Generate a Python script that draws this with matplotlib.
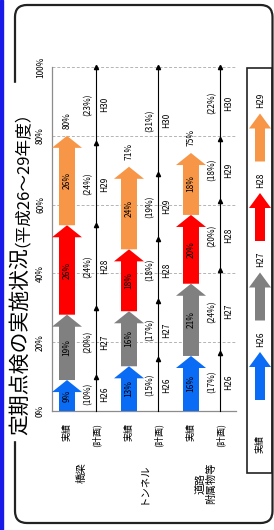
import matplotlib
matplotlib.use('Agg')
import matplotlib.pyplot as plt
import numpy as np
from matplotlib.patches import FancyArrow, FancyBboxPatch, Rectangle

# ---------------- data ----------------
categories = ['橋梁', 'トンネル', '道路\n附属物等']
actual_years = ['H26', 'H27', 'H28', 'H29']
plan_years = ['H26', 'H27', 'H28', 'H29', 'H30']
bridge_actual = [9, 19, 26, 26]
tunnel_actual = [13, 16, 18, 24]
road_actual = [16, 21, 20, 18]
bridge_plan = [10, 20, 24, 24, 23]
tunnel_plan = [15, 17, 18, 19, 31]
road_plan = [17, 24, 20, 18, 22]
y_ticks = [0, 20, 40, 60, 80, 100]
actual_label = '実績'
plan_label = '(計画)'
title_main = '定期点検の実施状況'
title_sub = '（平成26～29年度）'

year_colors = ['#0A6CF5', '#808080', '#FF0000', '#F79646']
NUM = ['Liberation Sans Narrow', 'Noto Sans CJK JP']
JP = ['Noto Sans CJK JP', 'DejaVu Sans']

W, H = 274, 530
fig = plt.figure(figsize=(W / 100, H / 100), dpi=100)

# decoration layer in pixel coordinates
deco = fig.add_axes([0, 0, 1, 1])
deco.set_xlim(0, W)
deco.set_ylim(H, 0)
deco.axis('off')

# main plot axes
ax = fig.add_axes([52 / W, (H - 411) / H, 184 / W, 344 / H])
ax.patch.set_alpha(0)
ax.set_xlim(-0.242, 2.726)
ax.set_ylim(0, 100)
for s in ['top', 'right']:
    ax.spines[s].set_visible(False)
for s in ['left', 'bottom']:
    ax.spines[s].set_color('#8C8C8C')
    ax.spines[s].set_linewidth(0.9)
ax.set_xticks([])
ax.set_yticks(y_ticks)
ax.set_yticklabels([f'{v}%' for v in y_ticks], rotation=90, fontsize=6,
                   family=NUM, va='center')
ax.tick_params(axis='y', length=0, pad=5)
for v in y_ticks[1:]:
    ax.axhline(v, color='#B4B4B4', lw=0.7, ls=(0, (3, 2)), zorder=0, clip_on=False)

group_actual = [bridge_actual, tunnel_actual, road_actual]
group_plan = [bridge_plan, tunnel_plan, road_plan]
plan_offset = 0.47
shaft_w, head_w, head_l = 0.258, 0.484, 3.5
txt = dict(rotation=90, rotation_mode='anchor', clip_on=False)

for i, (act, pln) in enumerate(zip(group_actual, group_plan)):
    xa = i
    xp = i + plan_offset
    cum_a = np.cumsum(act)
    starts = np.concatenate([[0], cum_a[:-1]])
    for j, (s, v) in enumerate(zip(starts, act)):
        ax.add_patch(FancyArrow(xa, s, 0, v, width=shaft_w, head_width=head_w,
                                head_length=head_l, length_includes_head=True,
                                color=year_colors[j], lw=0, zorder=3))
        ax.text(xa, s + v / 2, f'{v}%', ha='center', va='center', fontsize=6,
                family=NUM, zorder=4, **txt)
    ax.text(xa, cum_a[-1] + 2, f'{cum_a[-1]}%', ha='left', va='center',
            fontsize=6, family=NUM, **txt)

    cum_p = np.minimum(np.cumsum(pln), 100)
    pstarts = np.concatenate([[0], cum_p[:-1]])
    ax.plot([xp, xp], [0, 100], color='black', lw=0.8, clip_on=False, zorder=3)
    ax.plot([xp] * len(cum_p), cum_p, ls='none', marker='^', ms=3,
            color='black', clip_on=False, zorder=3)
    for k, (ps, c, v) in enumerate(zip(pstarts, cum_p, pln)):
        mid = (ps + c) / 2
        ax.text(xp - 0.13, mid, f'({v}%)', ha='center', va='center',
                fontsize=6, family=NUM, **txt)
        ax.text(xp + 0.13, mid, plan_years[k], ha='center', va='center',
                fontsize=6, family=NUM, **txt)

    ax.text(xa, -3.5, actual_label, ha='right', va='center', fontsize=6.5,
            family=JP, **txt)
    ax.text(xp, -3.5, plan_label, ha='right', va='center', fontsize=6.5,
            family=NUM, **txt)
    ax.text(i + plan_offset / 2, -15, categories[i], ha='right', va='center',
            multialignment='center', fontsize=7.5, family=JP,
            linespacing=1.1, **txt)

# ---------------- frame & title ----------------
deco.add_patch(FancyBboxPatch((15, 5), 257.5, 518,
                              boxstyle='round,pad=0,rounding_size=12',
                              fill=False, ec='#222222', lw=1.6, zorder=1))
deco.add_patch(Rectangle((11, 83), 8, 357, color='white', zorder=2))
deco.add_patch(Rectangle((0, 0), 3, H, color='#1A1AE8', zorder=3))
deco.text(20, 435, title_main, rotation=90, rotation_mode='anchor', ha='left',
          va='center', fontsize=15, family=JP, zorder=4)
deco.text(14, 247, title_sub, rotation=90, rotation_mode='anchor', ha='left',
          va='center', fontsize=12, family=JP, zorder=4)

# ---------------- legend ----------------
deco.add_patch(Rectangle((247, 67.5), 24.5, 405.5, fill=False, ec='#222222',
                         lw=1.2, zorder=2))
for j, yr in enumerate(actual_years):
    bottom = 400 - 79.5 * j
    deco.add_patch(FancyArrow(260, bottom, 0, -48, width=10, head_width=22,
                              head_length=15, length_includes_head=True,
                              color=year_colors[j], lw=0, zorder=3))
    deco.text(261, bottom - 61, yr, rotation=90, rotation_mode='anchor',
              ha='center', va='center', fontsize=6, style='italic',
              family=NUM, zorder=3)
deco.text(260, 444, actual_label, rotation=90, rotation_mode='anchor',
          ha='center', va='center', fontsize=6.5, family=JP, zorder=3)

fig.savefig('out.png', dpi=100)
